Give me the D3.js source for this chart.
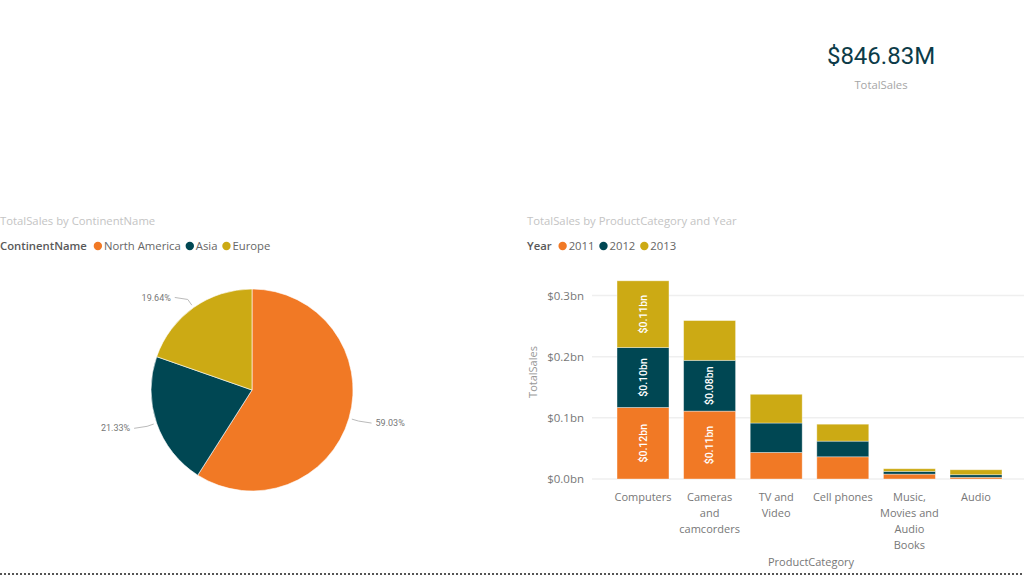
<!DOCTYPE html>
<html><head><meta charset="utf-8">
<script src="https://cdn.jsdelivr.net/npm/d3@7"></script>
<style>
html,body{margin:0;padding:0;background:#fff;}
svg{display:block;}
text{font-family:"Open Sans","Noto Sans",sans-serif;}
.din{font-family:Roboto,"DejaVu Sans",sans-serif;}
</style></head>
<body>
<svg id="c" width="1024" height="576"></svg>
<script>
// ---- data ----
const cardValue = "$846.83M";
const cardLabel = "TotalSales";

const continents = ["North America", "Asia", "Europe"];
const continentShare = [59.03, 21.33, 19.64];

const categories = ["Computers", "Cameras and camcorders", "TV and Video", "Cell phones", "Music, Movies and Audio Books", "Audio"];
const categoryLines = [["Computers"], ["Cameras", "and", "camcorders"], ["TV and", "Video"], ["Cell phones"], ["Music,", "Movies and", "Audio", "Books"], ["Audio"]];
const years = ["2011", "2012", "2013"];
const sales2011 = [0.117, 0.111, 0.0435, 0.0363, 0.0080, 0.0028];
const sales2012 = [0.098, 0.083, 0.048, 0.0256, 0.0045, 0.0042];
const sales2013 = [0.109, 0.065, 0.047, 0.0277, 0.0043, 0.0081];
const yTicks = [0, 0.1, 0.2, 0.3];

const colors = ["#F17925", "#004753", "#CCAA14"];
const FS = 11;
const FL = 11.3;

const svg = d3.select("#c");

// ---- card ----
svg.append("text").attr("class", "din").attr("x", 881).attr("y", 64)
  .attr("text-anchor", "middle").attr("font-size", 24)
  .attr("fill", "#0c3b48").text(cardValue);
svg.append("text").attr("x", 881).attr("y", 89).attr("text-anchor", "middle")
  .attr("font-size", FL).attr("fill", "#a6a6a6").text(cardLabel);

// ---- legend helper ----
function legend(x, y, title, items) {
  const g = svg.append("g");
  const t = g.append("text").attr("x", x).attr("y", y).attr("font-size", FL)
    .attr("font-weight", 600).attr("fill", "#595959").text(title);
  let cx = x + t.node().getComputedTextLength() + 11;
  items.forEach((it, i) => {
    g.append("circle").attr("cx", cx).attr("cy", y - 4).attr("r", 4.2).attr("fill", colors[i]);
    const tt = g.append("text").attr("x", cx + 6).attr("y", y).attr("font-size", FL)
      .attr("fill", "#666").text(it);
    cx = cx + 6 + tt.node().getComputedTextLength() + 9;
  });
}

// ---- pie ----
svg.append("text").attr("x", 0).attr("y", 225).attr("font-size", FL).attr("fill", "#c4c4c4")
  .text("TotalSales by ContinentName");
legend(0, 250, "ContinentName", continents);

const pcx = 252, pcy = 390, r = 101;
const pie = d3.pie().sort(null).value(d => d)(continentShare);
const arc = d3.arc().innerRadius(0).outerRadius(r);
const pg = svg.append("g").attr("transform", `translate(${pcx},${pcy})`);
pg.selectAll("path").data(pie).join("path").attr("d", arc)
  .attr("fill", (d, i) => colors[i]).attr("stroke", "#fff").attr("stroke-width", 0.6);

pie.forEach((d, i) => {
  const a = (d.startAngle + d.endAngle) / 2;
  const sx = Math.sin(a), sy = -Math.cos(a);
  const p1 = [sx * (r + 3), sy * (r + 3)];
  const p2 = [sx * (r + 10), sy * (r + 10)];
  const right = sx > 0;
  const p3 = [p2[0] + (right ? 13 : -13), p2[1] + (sy > 0 ? 2 : -2)];
  pg.append("polyline").attr("points", [p1, p2, p3].map(p => p.join(",")).join(" "))
    .attr("fill", "none").attr("stroke", "#bbb").attr("stroke-width", 1);
  pg.append("text").attr("class", "din").attr("x", p3[0] + (right ? 4 : -4)).attr("y", p3[1])
    .attr("dy", "0.35em").attr("text-anchor", right ? "start" : "end")
    .attr("font-size", 9).attr("fill", "#777").text(d3.format(".2f")(continentShare[i]) + "%");
});

// ---- bar chart ----
svg.append("text").attr("x", 527).attr("y", 225).attr("font-size", FL).attr("fill", "#c4c4c4")
  .text("TotalSales by ProductCategory and Year");
legend(527, 250, "Year", years);

const x = d3.scaleBand().domain(categories).range([609.7, 1009.3]).paddingInner(0.22).paddingOuter(0.11);
const y = d3.scaleLinear().domain([0, 0.3]).range([479, 295.5]);

// gridlines
svg.append("g").selectAll("line").data(yTicks).join("line")
  .attr("x1", 592).attr("x2", 1024).attr("y1", d => y(d)).attr("y2", d => y(d))
  .attr("stroke", "#efefef").attr("stroke-width", 1.5);

// y axis
const yAxis = d3.axisLeft(y).tickValues(yTicks).tickSize(0).tickPadding(0)
  .tickFormat(d => "$" + d.toFixed(1) + "bn");
const yg = svg.append("g").attr("transform", "translate(584,0)").call(yAxis);
yg.select(".domain").remove();
yg.selectAll("text").attr("font-size", FS + 0.5).attr("fill", "#777")
  .attr("font-family", "'Open Sans','Noto Sans',sans-serif");

svg.append("text").attr("transform", "translate(537,372) rotate(-90)").attr("text-anchor", "middle")
  .attr("font-size", FS).attr("fill", "#999").text("TotalSales");

// stacked bars
const rows = categories.map((c, i) => ({ cat: c, "2011": sales2011[i], "2012": sales2012[i], "2013": sales2013[i] }));
const stack = d3.stack().keys(years)(rows);
const bars = svg.append("g");
stack.forEach((layer, li) => {
  bars.append("g").selectAll("rect").data(layer).join("rect")
    .attr("x", d => x(d.data.cat)).attr("width", x.bandwidth())
    .attr("y", d => y(d[1])).attr("height", d => y(d[0]) - y(d[1]))
    .attr("fill", colors[li]).attr("stroke", "#fff").attr("stroke-opacity", 0.45).attr("stroke-width", 0.8);
});
// data labels
stack.forEach((layer, li) => {
  layer.forEach(d => {
    const h = y(d[0]) - y(d[1]);
    if (h < 45) return;
    const cx = x(d.data.cat) + x.bandwidth() / 2;
    const cy = (y(d[0]) + y(d[1])) / 2;
    bars.append("text").attr("class", "din")
      .attr("transform", `translate(${cx},${cy}) rotate(-90)`)
      .attr("text-anchor", "middle").attr("dy", "0.35em")
      .attr("font-size", 10.5).attr("font-weight", 500).attr("fill", "#fff")
      .text("$" + (d[1] - d[0]).toFixed(2) + "bn");
  });
});

// x axis
const xAxis = d3.axisBottom(x).tickSize(0).tickPadding(0).tickFormat(() => "");
const xg = svg.append("g").attr("transform", "translate(0,479)").call(xAxis);
xg.select(".domain").remove();
xg.selectAll(".tick text").each(function (d) {
  const lines = categoryLines[categories.indexOf(d)];
  const t = d3.select(this).attr("font-size", FS).attr("fill", "#777")
    .attr("font-family", "'Open Sans','Noto Sans',sans-serif").attr("y", 0).attr("dy", null);
  lines.forEach((ln, k) => {
    t.append("tspan").attr("x", 0).attr("y", 22 + k * 16).text(ln);
  });
});

svg.append("text").attr("x", 811).attr("y", 566).attr("text-anchor", "middle")
  .attr("font-size", FS).attr("fill", "#777").text("ProductCategory");

// dotted separator
svg.append("line").attr("x1", 0).attr("x2", 1024).attr("y1", 574).attr("y2", 574)
  .attr("stroke", "#555").attr("stroke-width", 2).attr("stroke-dasharray", "2,2");
</script>
</body></html>
